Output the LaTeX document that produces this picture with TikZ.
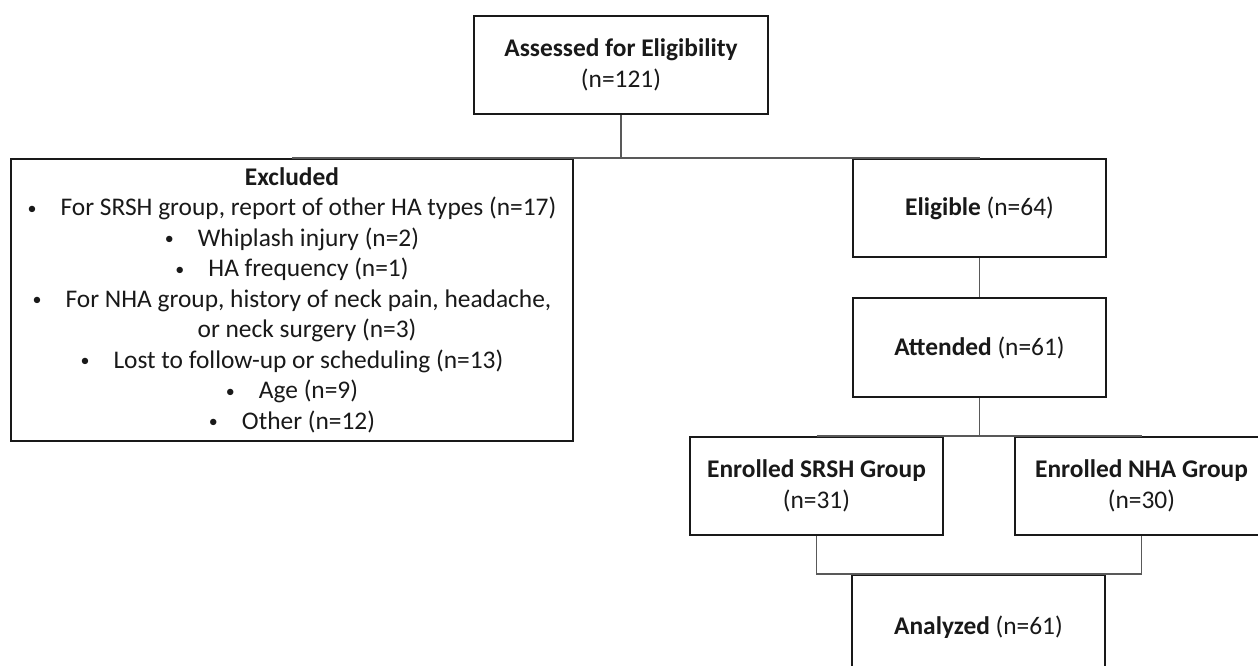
\documentclass[tikz,border=0pt]{standalone}
\usepackage{fontspec}
\setmainfont{Carlito}
\newcommand{\blt}{\raisebox{1.5pt}{\fontsize{18}{18}\selectfont\textbullet}\hspace{24pt}}
\begin{document}
\begin{tikzpicture}[x=1pt,y=-1pt,
  box/.style={draw=black!90,line width=2.2pt,fill=white,inner sep=0pt,align=center,
    font=\fontsize{25.4}{30.5}\selectfont,text=black!90},
  conn/.style={draw=black!65,line width=1.3pt}]
\useasboundingbox (0,0) rectangle (1258,666);
\fill[white] (0,0) rectangle (1258,666);
\node[box,minimum width=294pt,minimum height=98pt] (assessed) at (621,65)
  {\textbf{Assessed for Eligibility}\\(n=121)};
\node[box,minimum width=562pt,minimum height=282pt] (excluded) at (292,300)
  {\textbf{Excluded}\\
   \blt For SRSH group, report of other HA types (n=17)\\
   \blt Whiplash injury (n=2)\\
   \blt HA frequency (n=1)\\
   \blt For NHA group, history of neck pain, headache,\\
   \hspace{30pt}or neck surgery (n=3)\\
   \blt Lost to follow-up or scheduling (n=13)\\
   \blt Age (n=9)\\
   \blt Other (n=12)};
\node[box,minimum width=253pt,minimum height=98pt] (eligible) at (979.5,208)
  {\textbf{Eligible} (n=64)};
\node[box,minimum width=253pt,minimum height=99pt] (attended) at (979.5,347.5)
  {\textbf{Attended} (n=61)};
\node[box,minimum width=253pt,minimum height=98pt] (srsh) at (816.5,486)
  {\textbf{Enrolled SRSH Group}\\(n=31)};
\node[box,minimum width=253pt,minimum height=98pt] (nha) at (1141.5,486)
  {\textbf{Enrolled NHA Group}\\(n=30)};
\node[box,minimum width=253pt,minimum height=104pt] (analyzed) at (978.5,627)
  {\textbf{Analyzed} (n=61)};
% connectors
\draw[conn] (assessed.south) -- (assessed.south |- eligible.north);
\draw[conn] (excluded.north) -- (eligible.north);
\draw[conn] (eligible.south) -- (attended.north);
\draw[conn] (attended.south) -- (attended.south |- srsh.north);
\draw[conn] (srsh.north) -- (nha.north);
\draw[conn] (srsh.south) |- (analyzed.north) -| (nha.south);
\end{tikzpicture}
\end{document}
